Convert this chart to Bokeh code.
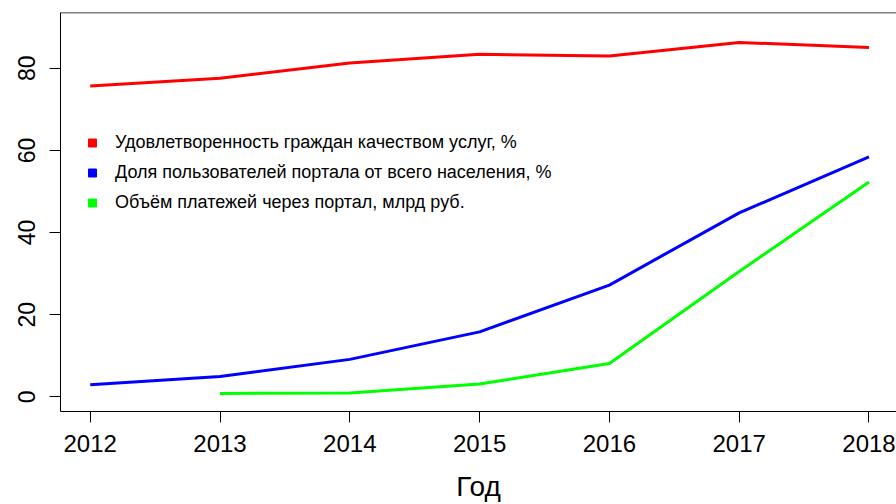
from bokeh.plotting import figure
from bokeh.models import (Range1d, FixedTicker, Legend, LegendItem, Span)
from bokeh.embed import file_html
from bokeh.resources import INLINE

years = [2012, 2013, 2014, 2015, 2016, 2017, 2018]
satisfaction = [75.7, 77.6, 81.3, 83.4, 83.0, 86.3, 85.1]
portal_share = [2.9, 4.9, 9.1, 15.8, 27.2, 44.8, 58.4]
pay_years = [2013, 2014, 2015, 2016, 2017, 2018]
payments = [0.8, 0.9, 3.1, 8.1, 30.5, 52.3]

labels = ["Удовлетворенность граждан качеством услуг, %",
          "Доля пользователей портала от всего населения, %",
          "Объём платежей через портал, млрд руб."]
x_title = "Год"
colors = ["#FF0000", "#0000FF", "#00FF00"]
x_ticks = [2012, 2013, 2014, 2015, 2016, 2017, 2018]
y_ticks = [0, 20, 40, 60, 80]

FONT = "Liberation Sans"
nan = float("nan")

p = figure(width=896, height=504, output_backend="svg", toolbar_location=None,
           x_range=Range1d(2011.771, 2018.212), y_range=Range1d(-3.6, 93.6),
           min_border_left=60, min_border_right=0, min_border_top=12,
           min_border_bottom=93)
p.outline_line_color = None
p.background_fill_color = "white"
p.border_fill_color = "white"
p.xgrid.visible = False
p.ygrid.visible = False

r1 = p.line(years, satisfaction, line_color=colors[0], line_width=3)
r2 = p.line(years, portal_share, line_color=colors[1], line_width=3)
r3 = p.line(pay_years, payments, line_color=colors[2], line_width=3)

# top edge of the box
p.add_layout(Span(location=93.6, dimension="width", line_color="black", line_width=1.5))

for ax in (p.xaxis[0], p.yaxis[0]):
    ax.axis_line_color = "black"
    ax.axis_line_width = 1
    ax.major_tick_line_color = "black"
    ax.major_tick_line_width = 1
    ax.minor_tick_line_color = None
    ax.major_tick_in = 0
    ax.major_tick_out = 11
    ax.major_label_text_font = FONT
    ax.major_label_text_color = "black"

p.xaxis[0].ticker = FixedTicker(ticks=x_ticks)
p.yaxis[0].ticker = FixedTicker(ticks=y_ticks)
p.xaxis[0].major_label_text_font_size = "24px"
p.yaxis[0].major_label_text_font_size = "23px"
p.yaxis[0].major_label_orientation = "vertical"
p.xaxis[0].major_label_standoff = 12
p.yaxis[0].major_label_standoff = 14
p.xaxis[0].major_label_text_line_height = 1.0
p.xaxis[0].axis_label = x_title
p.xaxis[0].axis_label_text_font = FONT
p.xaxis[0].axis_label_text_font_size = "28px"
p.xaxis[0].axis_label_text_font_style = "normal"
p.xaxis[0].axis_label_text_color = "black"
p.xaxis[0].axis_label_text_line_height = 1.0
p.xaxis[0].axis_label_standoff = 16

# legend keys (square markers, not drawn in the plot area)
k1 = p.scatter([nan], [nan], marker="square", size=8, color=colors[0])
k2 = p.scatter([nan], [nan], marker="square", size=8, color=colors[1])
k3 = p.scatter([nan], [nan], marker="square", size=8, color=colors[2])

legend = Legend(items=[LegendItem(label=labels[0], renderers=[k1]),
                       LegendItem(label=labels[1], renderers=[k2]),
                       LegendItem(label=labels[2], renderers=[k3])],
                location=(22, 198), orientation="vertical",
                glyph_width=20, glyph_height=21, label_height=21, spacing=9,
                label_standoff=13, padding=0, margin=0,
                border_line_color=None, background_fill_alpha=0,
                label_text_font=FONT, label_text_font_size="18px",
                label_text_color="black")
p.add_layout(legend)

open("out.html", "w").write(file_html(p, INLINE))
